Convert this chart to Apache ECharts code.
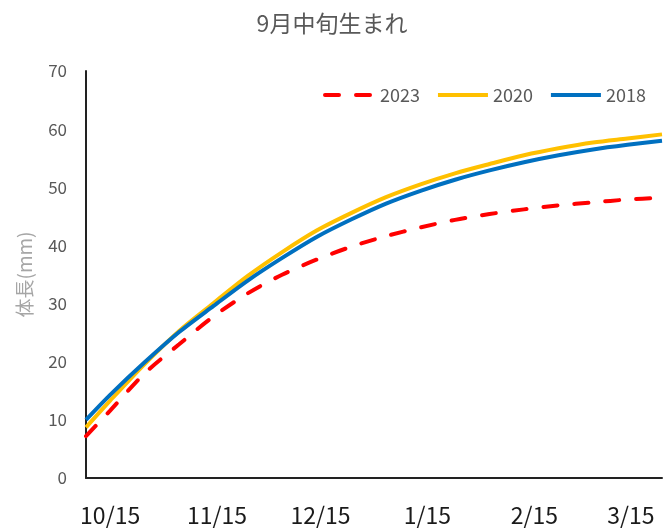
<!DOCTYPE html>
<html>
<head>
<meta charset="utf-8">
<script src="https://cdn.jsdelivr.net/npm/echarts@6/dist/echarts.min.js"></script>
<style>
html, body { margin: 0; padding: 0; background: #fff; }
#chart { width: 664px; height: 530px; }
</style>
</head>
<body>
<div id="chart"></div>
<script>
// days counted from 10/15
const days = [-7, 0, 10, 20, 30, 40, 50, 60, 70, 80, 90, 100, 110, 120, 130, 140, 150, 160]
const tickDays = [0, 31, 61, 92, 123, 151]
const tickLabels = ['10/15', '11/15', '12/15', '1/15', '2/15', '3/15']

const y2023 = [7.2, 11.6, 18.0, 23.0, 27.8, 31.8, 35.0, 37.6, 39.8, 41.6, 43.1, 44.4, 45.4, 46.2, 46.9, 47.4, 47.9, 48.2]
const y2020 = [8.7, 13.3, 19.6, 25.3, 30.1, 34.8, 38.9, 42.6, 45.6, 48.3, 50.5, 52.4, 54.0, 55.5, 56.7, 57.7, 58.4, 59.1]
const y2018 = [10.0, 14.3, 19.9, 25.1, 29.6, 34.0, 37.9, 41.5, 44.5, 47.2, 49.4, 51.3, 52.9, 54.3, 55.5, 56.5, 57.3, 58.0]

const font = '"Noto Sans CJK JP", "Noto Sans", sans-serif'
const pairs = (ys) => days.map((d, i) => [d, ys[i]])

const chart = echarts.init(document.getElementById('chart'))
chart.setOption({
    animation: false,
    title: {
        text: '9月中旬生まれ',
        left: 'center',
        top: 7,
        textStyle: { fontFamily: font, fontSize: 23, fontWeight: 'normal', color: '#595959' }
    },
    legend: {
        data: ['2023', '2020', '2018'],
        left: 318,
        top: 81,
        itemWidth: 50,
        itemHeight: 18,
        itemGap: 16,
        itemStyle: { opacity: 0 },
        lineStyle: { width: 4 },
        textStyle: { fontFamily: font, fontSize: 18, color: '#595959' }
    },
    grid: { left: 86, right: 2, top: 71, bottom: 52 },
    xAxis: {
        type: 'value',
        min: -7,
        max: 160,
        axisLine: { show: true, onZero: false, lineStyle: { color: '#222', width: 2 } },
        axisTick: { show: false },
        splitLine: { show: false },
        axisLabel: {
            customValues: tickDays,
            margin: 26,
            fontFamily: font,
            fontSize: 23,
            color: '#1a1a1a',
            formatter: (v) => tickLabels[tickDays.indexOf(v)]
        }
    },
    yAxis: {
        type: 'value',
        min: 0,
        max: 70,
        interval: 10,
        name: '体長(mm)',
        nameLocation: 'middle',
        nameGap: 52,
        nameTextStyle: { fontFamily: font, fontSize: 19, color: '#a6a6a6' },
        axisLine: { show: true, onZero: false, lineStyle: { color: '#222', width: 2 } },
        axisTick: { show: false },
        splitLine: { show: false },
        axisLabel: { margin: 19, fontFamily: font, fontSize: 17, color: '#595959' }
    },
    series: [
        {
            name: '2023',
            type: 'line',
            smooth: 0.3,
            symbol: 'none',
            data: pairs(y2023),
            z: 3,
            itemStyle: { color: '#ff0000' },
            lineStyle: { color: '#ff0000', width: 4, type: [14, 17], cap: 'round' }
        },
        {
            name: '2020',
            type: 'line',
            smooth: 0.3,
            symbol: 'none',
            data: pairs(y2020),
            z: 2,
            itemStyle: { color: '#ffc000' },
            lineStyle: { color: '#ffc000', width: 4 }
        },
        {
            name: '2018',
            type: 'line',
            smooth: 0.3,
            symbol: 'none',
            data: pairs(y2018),
            z: 2,
            itemStyle: { color: '#0070c0' },
            lineStyle: { color: '#0070c0', width: 4 }
        }
    ]
})
</script>
</body>
</html>
